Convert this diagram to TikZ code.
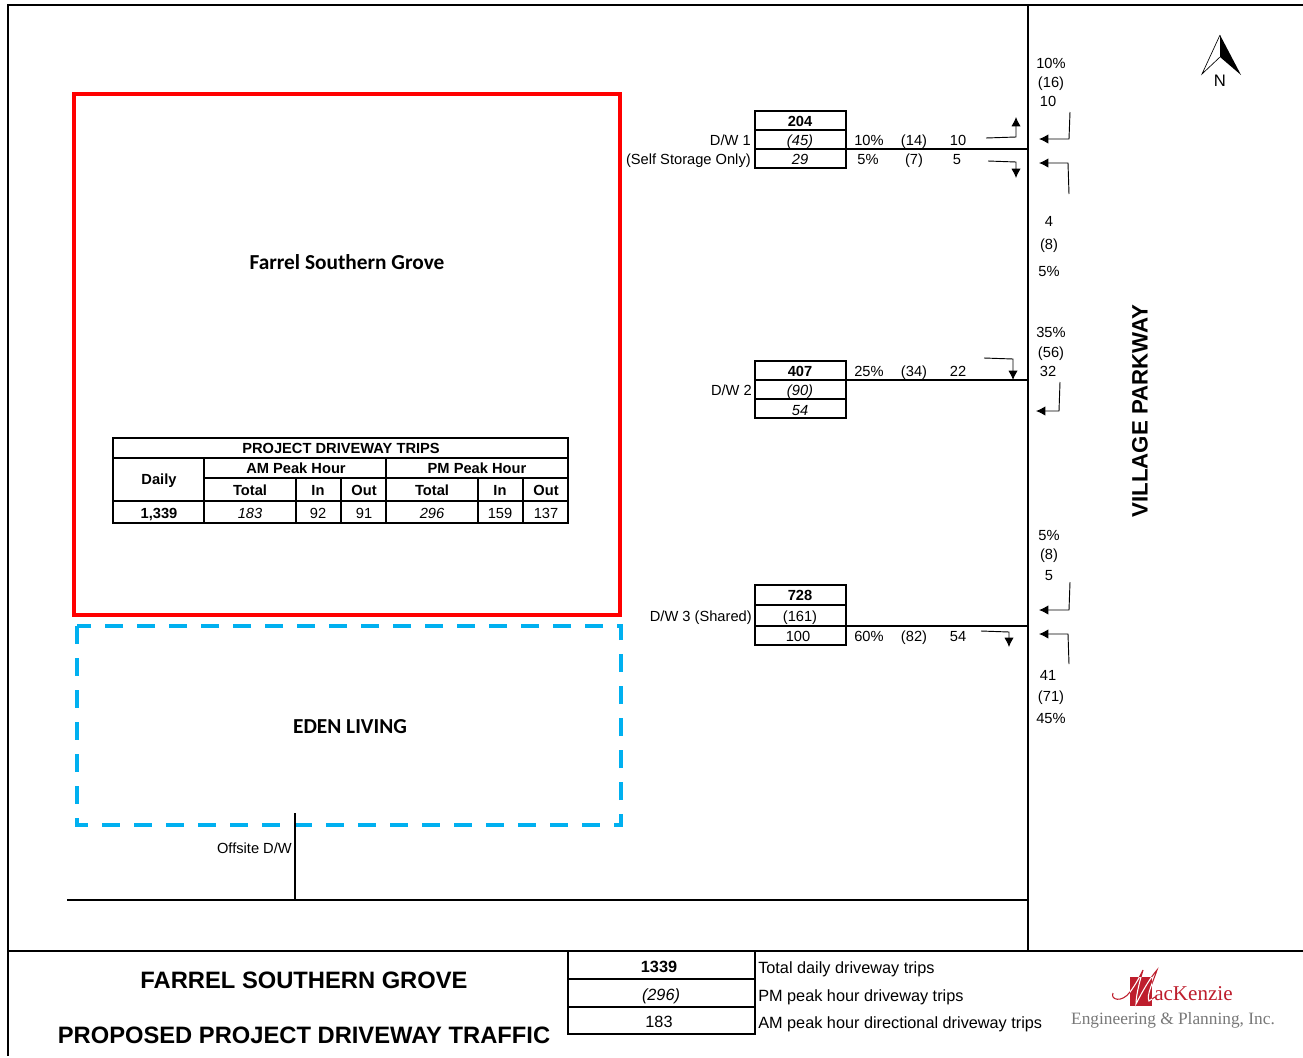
\documentclass[tikz,border=0pt]{standalone}
\usepackage{fontspec}
\setmainfont{Liberation Sans}
\newfontfamily\calibrifont{Carlito}
\newfontfamily\logofont{Liberation Serif}
\usetikzlibrary{arrows.meta,positioning,calc}
\definecolor{sitered}{RGB}{255,0,0}
\definecolor{edenblue}{RGB}{0,176,240}
\definecolor{logored}{RGB}{190,30,45}
\definecolor{logogray}{RGB}{120,120,120}

\begin{document}
\begin{tikzpicture}[x=0.75pt,y=-0.75pt,>={Latex[length=7pt,width=7pt]},
  lab/.style={font=\fontsize{11}{12}\selectfont,inner sep=0pt,text height=8pt,text depth=0pt},
  labb/.style={lab,font=\fontsize{11}{12}\selectfont\bfseries},
  labi/.style={lab,font=\fontsize{11}{12}\selectfont\itshape},
  keylab/.style={lab,font=\fontsize{12.2}{13}\selectfont,text height=8.6pt},
  road/.style={line width=1.5pt},
  grid/.style={line width=1.2pt},
  turn/.style={->,line width=0.7pt},
  title/.style={inner sep=0pt,font=\fontsize{17.8}{20}\selectfont\bfseries},
  sitename/.style={inner sep=0pt,font=\calibrifont\fontsize{16}{18}\selectfont\bfseries},
  logostroke/.style={line width=0.8pt}]
\useasboundingbox (0,0) rectangle (1303,1057);
\fill[white] (0,0) rectangle (1303,1057);
% frame
\coordinate (tl) at (8,5); \coordinate (tr) at (1303,5);
\coordinate (bl) at (8,1056); \coordinate (br) at (1303,1056);
\coordinate (rt) at (1028,5); \coordinate (rb) at (1028,951);
\coordinate (ml) at (8,951); \coordinate (mr) at (1303,951);
\draw[road] (tr)--(tl)--(bl);
\draw[line width=2pt] (ml)--(mr);
\draw[road] (rt)--(rb);
% site boxes
\draw[draw=sitered,line width=3pt] (74,94) rectangle (620,615);
\node[sitename] (sitelab) at (347,262) {Farrel Southern Grove};
\draw[draw=edenblue,line width=3pt,dash pattern=on 13.5pt off 10.5pt] (77,626) rectangle (621,825);
\node[sitename] (edenlab) at (350,727) {EDEN LIVING};
% offsite driveway
\coordinate (offw) at (67,900); \coordinate (offe) at (1028,900);
\coordinate (offn) at (295,813); \coordinate (offs) at (295,900);
\draw[line width=1.1pt] (offw)--(offe); \draw[line width=1.1pt] (offn)--(offs);
\node[lab,anchor=east] (offlab) at (292,848) {Offsite D/W};
% trips table
\draw[grid] (113,438) rectangle (568,523);
\draw[grid] (113,458)--(568,458) (204,478)--(568,478) (113,501)--(568,501);
\draw[grid] (204,458)--(204,523) (386,458)--(386,523);
\foreach \x in {296,341,478,523} \draw[grid] (\x,478)--(\x,523);
\node[labb] (tt) at (341,448) {PROJECT DRIVEWAY TRIPS};
\node[labb] (td) at (159,479) {Daily};
\node[labb] (tam) at (296,468) {AM Peak Hour};
\node[labb] (tpm) at (477,468) {PM Peak Hour};
\foreach \x/\t in {250/Total,318/In,364/Out,432/Total,500/In,546/Out}
  \node[labb] at (\x,490) {\t};
\node[labb] at (159,513) {1,339};
\node[labi] at (250,513) {183};
\node[labi] at (432,513) {296};
\foreach \x/\t in {318/92,364/91,500/159,546/137}
  \node[lab] at (\x,513) {\t};
% driveway 1
\draw[road] (755,111) rectangle (846,168);
\draw[road] (755,130)--(846,130) (755,149)--(846,149);
\node[labb] (a1) at (800,121) {204};
\node[labi] (a2) at (800,140) {(45)};
\node[labi] (a3) at (800,159) {29};
\node[lab,anchor=east] (a4) at (751,140) {D/W 1};
\node[lab,anchor=east] (a5) at (751,159) {(Self Storage Only)};
\coordinate (d1) at (846,149); \coordinate (d1e) at (1028,149);
\draw[road] (d1)--(d1e);
\foreach \x/\t in {869/10\%,914/(14),958/10} \node[lab] at (\x,140) {\t};
\foreach \x/\t in {868/5\%,914/(7),957/5} \node[lab] at (\x,159) {\t};
\draw[turn] (986,138)--(1016,137)--(1016,117);
\draw[turn] (988,161)--(1016,162)--(1016,178);
\draw[turn] (1070,112)--(1069,139)--(1039,139);
\draw[turn] (1069,194)--(1068,163)--(1039,163);
\foreach \y/\t in {63/10\%,82/(16)} \node[lab] at (1051,\y) {\t};
\node[lab] at (1048,101) {10};
\foreach \y/\t in {221/4,244/(8),271/5\%} \node[lab] at (1049,\y) {\t};
% driveway 2
\draw[road] (755,361) rectangle (846,418);
\draw[road] (755,380)--(846,380) (755,399)--(846,399);
\node[labb] (b1) at (800,371) {407};
\node[labi] (b2) at (800,390) {(90)};
\node[labi] (b3) at (800,410) {54};
\node[lab,anchor=east] (b4) at (752,390) {D/W 2};
\coordinate (d2) at (846,380); \coordinate (d2e) at (1028,380);
\draw[road] (d2)--(d2e);
\foreach \x/\t in {869/25\%,914/(34),958/22} \node[lab] at (\x,371) {\t};
\draw[turn] (984,358)--(1013,359)--(1013,380);
\draw[turn] (1060,382)--(1059,411)--(1036,411);
\foreach \y/\t in {332/35\%,352/(56)} \node[lab] at (1051,\y) {\t};
\node[lab] at (1048,371) {32};
% driveway 3
\draw[road] (755,585) rectangle (846,645);
\draw[road] (755,605)--(846,605) (755,626)--(846,626);
\node[labb] (c1) at (800,595) {728};
\node[lab] (c2) at (800,616) {(161)};
\node[lab] (c3) at (798,636) {100};
\node[lab,anchor=east] (c4) at (752,616) {D/W 3 (Shared)};
\coordinate (d3) at (846,626); \coordinate (d3e) at (1028,626);
\draw[road] (d3)--(d3e);
\foreach \x/\t in {869/60\%,914/(82),958/54} \node[lab] at (\x,636) {\t};
\draw[turn] (981,631)--(1009,632)--(1009,647);
\draw[turn] (1070,582)--(1069,610)--(1039,610);
\draw[turn] (1069,664)--(1068,634)--(1039,634);
\foreach \y/\t in {535/5\%,554/(8),575/5} \node[lab] at (1049,\y) {\t};
\node[lab] at (1048,675) {41};
\foreach \y/\t in {696/(71),718/45\%} \node[lab] at (1051,\y) {\t};
% street name and north arrow
\node[inner sep=0pt,rotate=90,font=\fontsize{16.7}{18}\selectfont\bfseries] (street) at (1140,411) {VILLAGE PARKWAY};
\draw[line width=0.5pt] (1220,35)--(1202,74)--(1220,57);
\fill (1220,35)--(1241,75)--(1220,57)--cycle;
\node[lab,font=\fontsize{12.5}{13}\selectfont] (north) at (1220,81) {N};
% title block
\node[title] (t1) at (304,980) {FARREL SOUTHERN GROVE};
\node[title] (t2) at (304,1035) {PROPOSED PROJECT DRIVEWAY TRAFFIC};
\draw[line width=2pt] (568,951) rectangle (755,1034);
\draw[line width=2pt] (568,979)--(755,979) (568,1007)--(755,1007);
\node[keylab,font=\fontsize{12.2}{13}\selectfont\bfseries] (k1) at (659,967) {1339};
\node[keylab,font=\fontsize{12.2}{13}\selectfont\itshape] (k2) at (661,995) {(296)};
\node[keylab] (k3) at (659,1022) {183};
\node[keylab,anchor=west] (k4) at (758,968) {Total daily driveway trips};
\node[keylab,anchor=west] (k5) at (758,996) {PM peak hour driveway trips};
\node[keylab,anchor=west] (k6) at (758,1023) {AM peak hour directional driveway trips};
% logo
\draw[logored,logostroke] (1113,993) .. controls (1110,1000) and (1122,1003) .. (1130,992) .. controls (1136,984) and (1140,976) .. (1143,970) .. controls (1140,980) and (1136,995) .. (1136,1004) .. controls (1142,992) and (1150,978) .. (1157,970) .. controls (1153,982) and (1146,996) .. (1149,1001) -- (1155,997);
\fill[logored] (1130,977) rectangle (1152,1006);
\begin{scope}
\clip (1130,977) rectangle (1152,1006);
\draw[white,logostroke] (1113,993) .. controls (1110,1000) and (1122,1003) .. (1130,992) .. controls (1136,984) and (1140,976) .. (1143,970) .. controls (1140,980) and (1136,995) .. (1136,1004) .. controls (1142,992) and (1150,978) .. (1157,970) .. controls (1153,982) and (1146,996) .. (1149,1001) -- (1155,997);
\end{scope}
\node[inner sep=0pt,anchor=base west,text=logored,font=\logofont\fontsize{15.8}{18}\selectfont] (logoa) at (1154,1000) {acKenzie};
\node[inner sep=0pt,text=logogray,font=\logofont\fontsize{13}{14}\selectfont] (logob) at (1173,1020) {Engineering \& Planning, Inc.};
\end{tikzpicture}
\end{document}
